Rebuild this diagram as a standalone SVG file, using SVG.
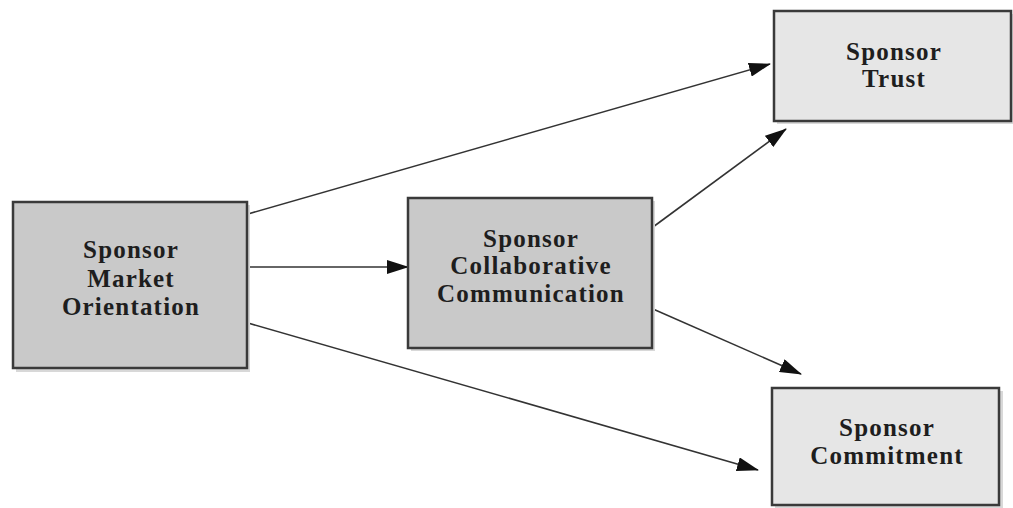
<svg xmlns="http://www.w3.org/2000/svg" width="1013" height="508" viewBox="0 0 1013 508">
<style>
.box{stroke:#3a3a3a;stroke-width:2.5}
.dark{fill:#c9c9c9}
.light{fill:#e6e6e6}
.shadow{fill:#d8d8d8}
.lbl{font-family:"Liberation Serif",serif;font-weight:bold;font-size:25px;letter-spacing:1.2px;fill:#1e1e1e;text-anchor:middle}
.conn{stroke:#333;stroke-width:1.6;fill:none;marker-end:url(#ah)}
</style>
<defs>
<marker id="ah" markerWidth="22" markerHeight="14" refX="21" refY="7" orient="auto" markerUnits="userSpaceOnUse">
<path d="M0,0 L22,7 L0,14 Z" fill="#111"/>
</marker>
</defs>
<rect width="1013" height="508" fill="#fff"/>
<g id="connectors">
<line class="conn" x1="248" y1="214" x2="770" y2="64"/>
<line class="conn" x1="248" y1="267" x2="408" y2="267"/>
<line class="conn" x1="248" y1="323" x2="758" y2="470"/>
<line class="conn" x1="653" y1="227" x2="786" y2="129"/>
<line class="conn" x1="653" y1="309" x2="801" y2="374"/>
</g>
<g id="market-orientation">
<rect class="shadow" x="16" y="205" width="234" height="167"/>
<rect class="box dark" x="13" y="202" width="234" height="166"/>
<text class="lbl" x="131" y="258">Sponsor</text>
<text class="lbl" x="131" y="287">Market</text>
<text class="lbl" x="131" y="315">Orientation</text>
</g>
<g id="collaborative-communication">
<rect class="shadow" x="411" y="201" width="244" height="150"/>
<rect class="box dark" x="408" y="198" width="244" height="150"/>
<text class="lbl" x="531" y="247">Sponsor</text>
<text class="lbl" x="531" y="274">Collaborative</text>
<text class="lbl" x="531" y="302">Communication</text>
</g>
<g id="trust">
<rect class="shadow" x="777" y="14" width="236" height="110"/>
<rect class="box light" x="774" y="11" width="237" height="110"/>
<text class="lbl" x="894" y="60">Sponsor</text>
<text class="lbl" x="894" y="87">Trust</text>
</g>
<g id="commitment">
<rect class="shadow" x="775" y="391" width="228" height="117"/>
<rect class="box light" x="772" y="388" width="227" height="117"/>
<text class="lbl" x="887" y="436">Sponsor</text>
<text class="lbl" x="887" y="464">Commitment</text>
</g>
</svg>
